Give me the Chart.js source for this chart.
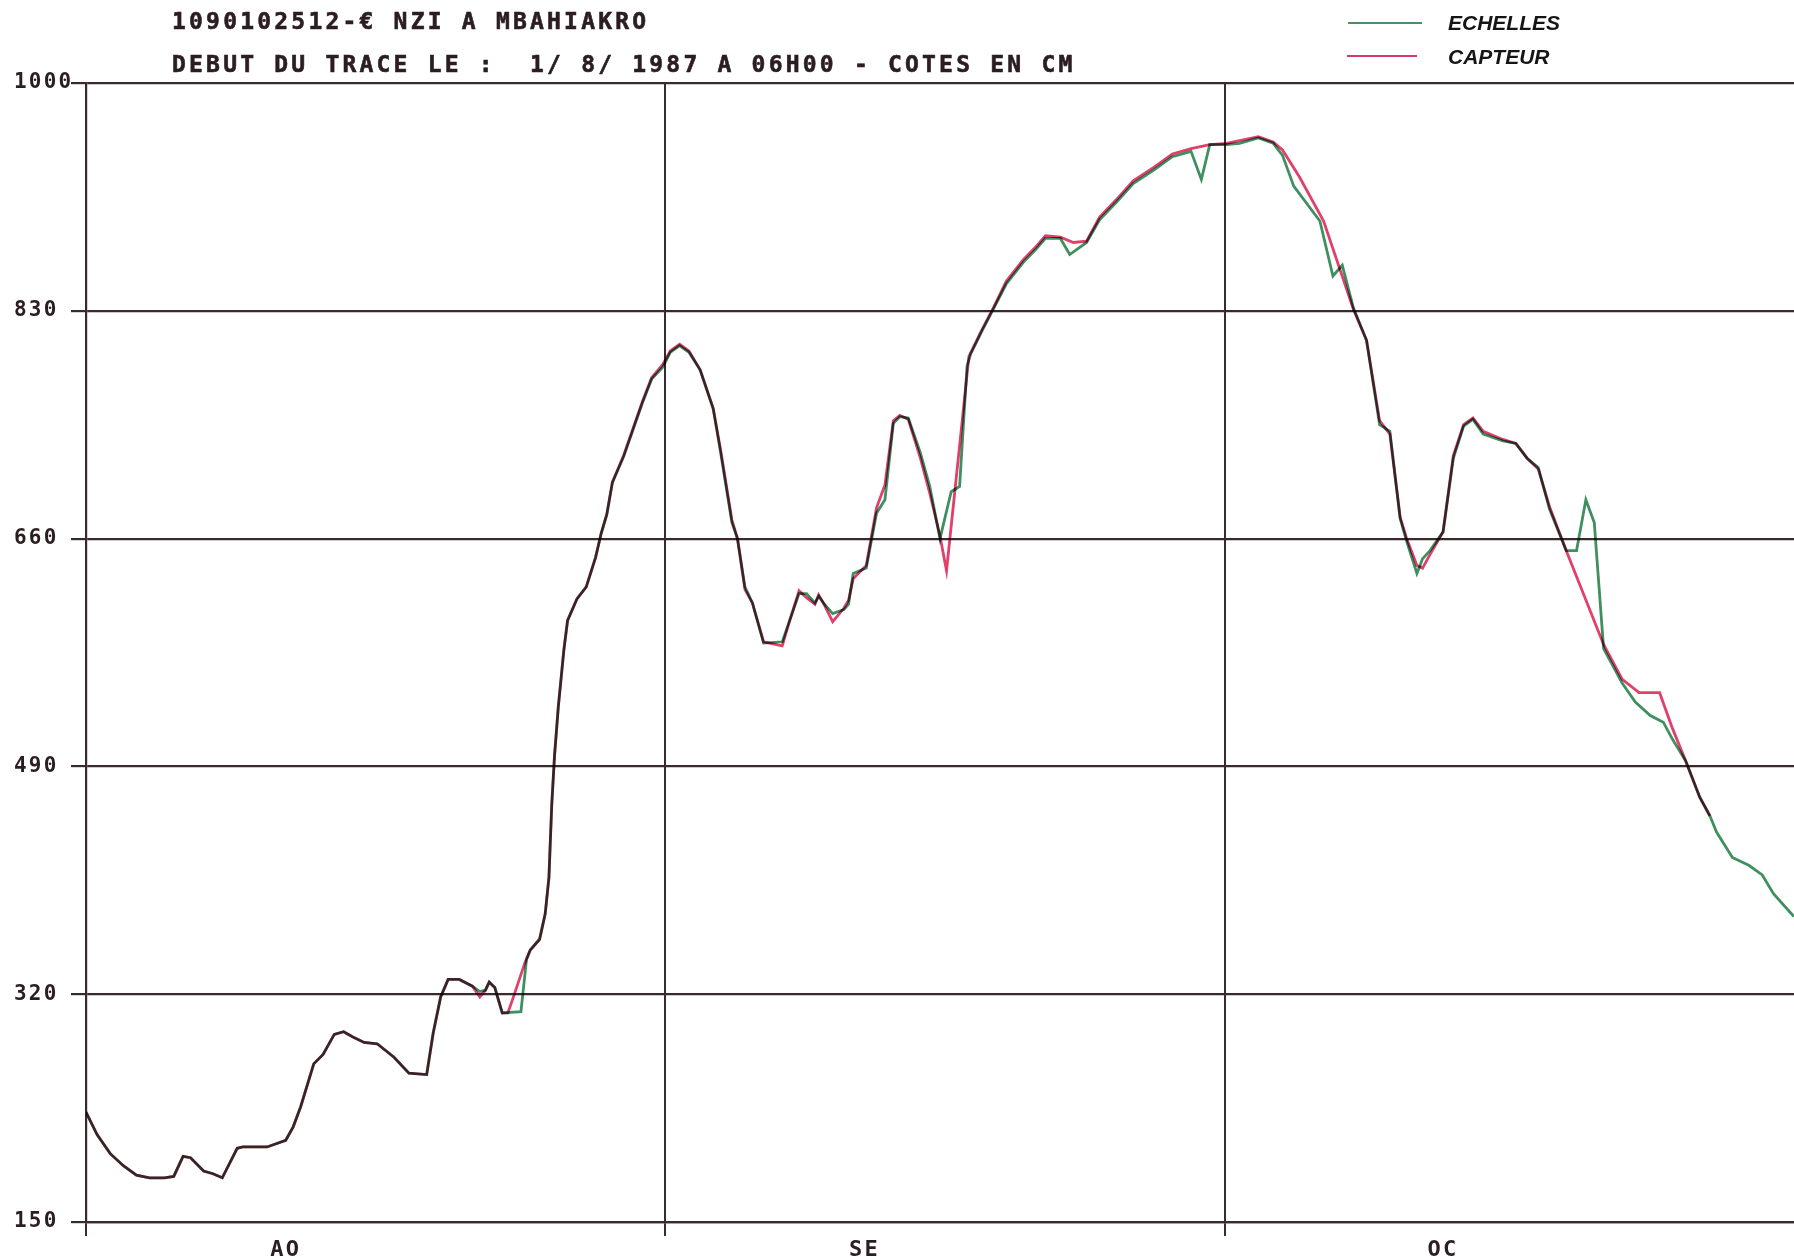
<!DOCTYPE html>
<html>
<head>
<meta charset="utf-8">
<script src="https://cdn.jsdelivr.net/npm/chart.js@4/dist/chart.umd.min.js"></script>
<style>
  html, body { margin: 0; padding: 0; background: #ffffff; }
  #wrap { position: relative; width: 1794px; height: 1257px; overflow: hidden; background: #ffffff; }
  #wrap canvas { position: absolute; left: 0; top: 0; }
  .ttl { position: absolute; left: 172px; font-family: "DejaVu Sans Mono", monospace; font-weight: bold;
         font-size: 23px; line-height: 24px; letter-spacing: 3.2px; color: #2b1d20; white-space: pre;
         -webkit-text-stroke: 0.6px #2b1d20; }
  .leg-line { position: absolute; height: 2px; }
  .leg-txt { position: absolute; left: 1448px; font-family: "Liberation Sans", Arial, sans-serif; font-weight: bold;
             font-style: italic; font-size: 21px; line-height: 22px; color: #151515; }
</style>
</head>
<body>
<div id="wrap">
  <canvas id="c" width="1794" height="1257"></canvas>
  <div class="ttl" style="top:9px">1090102512-€ NZI A MBAHIAKRO</div>
  <div class="ttl" style="top:52px">DEBUT DU TRACE LE :  1/ 8/ 1987 A 06H00 - COTES EN CM</div>
  <div class="leg-line" style="left:1348px; top:22px; width:74px; background:#4a8f68"></div>
  <div class="leg-txt" style="top:12px">ECHELLES</div>
  <div class="leg-line" style="left:1347px; top:55px; width:70px; background:#d8386a"></div>
  <div class="leg-txt" style="top:46px">CAPTEUR</div>
</div>
<script>
// ---- data ----
const monthStarts = [0, 31, 61];
const monthLabels = ['AO', 'SE', 'OC'];
const monthLabelDays = [10.7, 41.7, 72.7];
const yTicks = [150, 320, 490, 660, 830, 1000];

const echellesDays = [0.0,0.6,1.3,2.0,2.7,3.4,4.2,4.7,5.2,5.6,6.3,6.8,7.3,8.1,8.4,9.7,10.7,11.1,11.5,12.2,12.7,13.3,13.8,14.3,14.9,15.6,16.5,17.3,18.25,18.6,19.0,19.4,20.0,20.7,21.1,21.4,21.6,21.9,22.3,23.3,23.6,23.8,24.3,24.6,24.8,24.95,25.1,25.3,25.6,25.8,26.3,26.8,27.3,27.6,27.9,28.2,28.8,29.3,29.8,30.3,30.9,31.3,31.8,32.3,32.9,33.6,34.0,34.6,34.9,35.3,35.7,36.3,37.3,37.7,38.2,38.6,39.05,39.25,39.5,40.0,40.6,40.85,41.1,41.8,42.35,42.8,43.25,43.6,44.05,44.7,45.2,45.75,46.35,46.8,47.2,47.4,48.0,48.6,49.3,50.2,50.9,51.4,52.2,52.7,53.6,54.3,55.2,56.1,57.2,58.2,59.2,59.75,60.2,61.1,61.8,62.8,63.6,64.1,64.7,66.1,66.8,67.3,67.9,68.6,69.3,69.85,70.4,70.75,71.3,71.6,72.0,72.7,73.25,73.8,74.3,74.85,75.9,76.6,77.2,77.8,78.4,79.3,79.85,80.35,80.8,81.3,82.3,83.0,83.8,84.5,85.0,85.7,86.45,87.0,87.35,88.2,89.1,89.8,90.4,91.3,91.5];
const echellesValues = [232,215,201,192,185,183,183,184,199,198,188,186,183,205,206,206,211,221,236,268,275,290,292,288,284,283,273,261,260,291,318,331,331,326,322,323,329,325,306,307,346,353,361,380,407,461,498,534,577,599,615,624,646,664,678,702,721,741,761,779,788,799,804,799,786,757,724,672,660,624,612,582,583,599,619,619,612,617,612,604,607,611,634,638,679,689,746,751,750,724,699,660,695,699,789,798,815,831,850,866,876,884,884,872,881,898,911,925,935,945,949,928,954,954,955,959,955,946,923,897,856,864,832,808,745,740,675,658,634,645,651,665,720,744,749,738,733,731,720,713,682,651,651,689,672,578,552,538,528,523,510,494,467,453,441,422,416,409,395,381,378];

const capteurDays = [0.0,0.6,1.3,2.0,2.7,3.4,4.2,4.7,5.2,5.6,6.3,6.8,7.3,8.1,8.4,9.7,10.7,11.1,11.5,12.2,12.7,13.3,13.8,14.3,14.9,15.6,16.5,17.3,18.25,18.6,19.0,19.4,20.0,20.7,21.1,21.4,21.6,21.9,22.3,22.6,22.9,23.5,23.8,24.3,24.6,24.8,24.95,25.1,25.3,25.6,25.8,26.3,26.8,27.3,27.6,27.9,28.2,28.8,29.3,29.8,30.3,30.9,31.3,31.8,32.3,32.9,33.6,34.0,34.6,34.9,35.3,35.7,36.3,37.3,37.7,38.2,38.6,39.05,39.25,39.5,40.0,40.6,40.85,41.1,41.8,42.35,42.8,43.25,43.6,44.05,44.7,45.2,45.75,46.1,47.3,48.0,48.6,49.3,50.2,50.9,51.4,52.2,52.9,53.6,54.3,55.2,56.1,57.2,58.2,59.2,60.2,61.1,61.8,62.8,63.6,64.1,65.0,66.3,67.9,68.6,69.3,69.85,70.4,70.75,71.3,71.6,72.0,72.7,73.25,73.8,74.3,74.85,75.9,76.6,77.2,77.8,78.4,79.3,81.3,82.3,83.2,84.3,85.0,85.7,86.45,87.0];
const capteurValues = [232,215,201,192,185,183,183,184,199,198,188,186,183,205,206,206,211,221,236,268,275,290,292,288,284,283,273,261,260,291,318,331,331,326,318,323,329,325,306,306,318,343,353,361,380,407,461,498,534,577,599,615,624,646,664,678,702,722,742,762,780,790,800,805,800,786,757,726,674,660,622,612,583,580,599,621,616,611,618,612,598,608,614,630,640,683,700,748,752,749,720,694,662,636,796,816,832,852,868,878,886,885,881,882,900,913,927,937,947,951,954,955,957,960,956,950,930,897,831,808,748,738,676,660,640,638,648,665,722,745,750,740,734,731,720,712,684,651,581,555,545,545,518,494,467,453];

// ---- chart ----
const gridColor = '#3b2a2d';
const toPts = (xs, ys) => xs.map((d, i) => ({ x: d, y: ys[i] }));

const multiplyPlugin = {
  id: 'multiplyLines',
  beforeDraw(chart) { chart.ctx.letterSpacing = '2.2px'; },
  beforeDatasetsDraw(chart) { chart.ctx.save(); chart.ctx.globalCompositeOperation = 'multiply'; },
  afterDatasetsDraw(chart) { chart.ctx.restore(); }
};

new Chart(document.getElementById('c'), {
  type: 'line',
  data: {
    datasets: [
      { label: 'ECHELLES', data: toPts(echellesDays, echellesValues), borderColor: '#3f8f5f',
        borderWidth: 2.8, pointRadius: 0, tension: 0, fill: false },
      { label: 'CAPTEUR', data: toPts(capteurDays, capteurValues), borderColor: '#e0406a',
        borderWidth: 2.8, pointRadius: 0, tension: 0, fill: false }
    ]
  },
  options: {
    responsive: false,
    animation: false,
    devicePixelRatio: 1,
    layout: { padding: { top: 83, left: 14, right: 0, bottom: 0 } },
    plugins: { legend: { display: false }, tooltip: { enabled: false }, title: { display: false } },
    scales: {
      x: {
        type: 'linear', min: 0, max: 91.5,
        afterBuildTicks: (scale) => {
          const all = monthStarts.concat(monthLabelDays).sort((a, b) => a - b);
          scale.ticks = all.map(v => ({ value: v }));
        },
        afterFit: (scale) => { scale.height = 35; },
        grid: {
          color: (c) => (c.tick && monthStarts.includes(c.tick.value)) ? gridColor : 'rgba(0,0,0,0)',
          tickColor: (c) => (c.tick && monthStarts.includes(c.tick.value)) ? gridColor : 'rgba(0,0,0,0)',
          lineWidth: 2, tickLength: 14, drawOnChartArea: true
        },
        border: { display: true, color: gridColor, width: 2.2 },
        ticks: {
          autoSkip: false, maxRotation: 0, minRotation: 0, padding: 1,
          color: '#2b1d20',
          font: { family: 'DejaVu Sans Mono', weight: 'bold', size: 22 },
          callback: (v) => { const i = monthLabelDays.indexOf(v); return i >= 0 ? monthLabels[i] : ''; }
        }
      },
      y: {
        type: 'linear', min: 150, max: 1000,
        afterBuildTicks: (scale) => { scale.ticks = yTicks.map(v => ({ value: v })); },
        afterFit: (scale) => { scale.width = 72; },
        grid: { color: gridColor, tickColor: gridColor, lineWidth: 2.2, tickLength: 15 },
        border: { display: true, color: gridColor, width: 2.2 },
        ticks: {
          crossAlign: 'far', padding: 0, color: '#2b1d20',
          font: { family: 'DejaVu Sans Mono', weight: 'bold', size: 21 },
          callback: (v) => String(v)
        }
      }
    }
  },
  plugins: [multiplyPlugin]
});
</script>
</body>
</html>
